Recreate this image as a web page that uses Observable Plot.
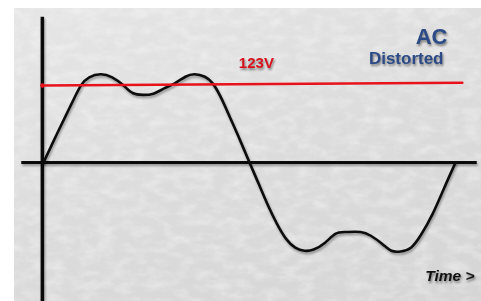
<!DOCTYPE html>
<html>
<head>
<meta charset="utf-8">
<script src="https://cdn.jsdelivr.net/npm/d3@7"></script>
<script src="https://cdn.jsdelivr.net/npm/@observablehq/plot@0.6"></script>
<style>
  html, body { margin: 0; padding: 0; background: #ffffff; }
  #wrap { position: relative; width: 481px; height: 301px; overflow: hidden; }
  #bg { position: absolute; left: 14px; top: 8px; width: 467px; height: 293px;
        background: linear-gradient(160deg, #e6e6e6 0%, #dcdcdc 50%, #d5d5d5 100%); }
  #bg svg { position: absolute; left: 0; top: 0; }
  #chart { position: absolute; left: 0; top: 0; }
  #chart svg { background: transparent; overflow: visible; }
  .shadow path, .shadow line { filter: drop-shadow(1px 2px 1.2px rgba(0,0,0,0.35)); }
  .tshadow text { filter: drop-shadow(1px 2px 1.2px rgba(0,0,0,0.45)); }
</style>
</head>
<body>
<div id="wrap">
  <div id="bg">
    <svg width="467" height="293">
      <filter id="tex"><feTurbulence type="fractalNoise" baseFrequency="0.06 0.11" numOctaves="4" seed="7"/>
        <feColorMatrix type="matrix" values="0 0 0 0 1  0 0 0 0 1  0 0 0 0 1  0 0 0 -1.8 1.1"/></filter>
      <rect width="467" height="293" filter="url(#tex)" opacity="0.4"/>
    </svg>
  </div>
  <div id="chart"></div>
</div>
<script>
// Waveform: phase (degrees) and voltage (V)
const phaseDeg = [0, 10, 20, 28, 33, 40, 50, 60, 70, 78, 87, 96, 105, 115, 124, 132, 141, 148, 155, 162, 170, 180,
                  188, 196, 204, 212, 220, 228, 236, 246, 255, 264, 277, 286, 296, 304, 312, 321, 330, 340, 350, 360];
const voltage  = [0, 39, 77, 107, 124, 136, 141, 136, 123, 111, 108, 110, 118, 127, 137, 141, 137, 126, 104, 76, 43, 0,
                  -34, -68, -98, -122, -136, -141, -139, -128, -114, -111, -111, -117, -130, -141, -142, -136, -115, -82, -41, 0];

// Reference level line
const refLabel = "123V";
const refPhase = [-1, 366];
const refVolts = [123, 127.5];

// Axis extents
const axisXExtent = [-19, 379];
const axisYExtent = [232, -222];

// Texts
const titleMain = "AC";
const titleSub = "Distorted";
const timeLabel = "Time >";

const wave = phaseDeg.map((p, i) => ({p, v: voltage[i]}));
const ref = refPhase.map((p, i) => ({p, v: refVolts[i]}));

const chart = Plot.plot({
  width: 481,
  height: 301,
  margin: 0,
  x: {domain: [-37.57, 382.7], axis: null},
  y: {domain: [-222, 258.8], axis: null},
  style: {background: "transparent", fontFamily: "'Liberation Sans', Arial, sans-serif"},
  marks: [
    Plot.ruleY([0], {x1: axisXExtent[0], x2: axisXExtent[1], stroke: "#0a0a0a", strokeWidth: 3, className: "shadow"}),
    Plot.ruleX([-1], {y1: axisYExtent[0], y2: axisYExtent[1], stroke: "#0a0a0a", strokeWidth: 3.5, className: "shadow"}),
    Plot.line(wave, {x: "p", y: "v", curve: "natural", stroke: "#0d0d0d", strokeWidth: 2.6, className: "shadow"}),
    Plot.line(ref, {x: "p", y: "v", stroke: "#e8121c", strokeWidth: 2.4}),
    Plot.dot([ref[0]], {x: "p", y: "v", r: 2.2, fill: "#e8121c"}),
    Plot.text([refLabel], {x: 186, y: refVolts[0], dy: -22, text: d => d, fill: "#d8121c", fontSize: 15, fontWeight: "bold", textAnchor: "middle", className: "tshadow"}),
    Plot.text([titleMain], {frameAnchor: "top-left", dx: 447, dy: 28, text: d => d, fill: "#2b4a86", fontSize: 22, fontWeight: "bold", textAnchor: "end", className: "tshadow"}),
    Plot.text([titleSub], {frameAnchor: "top-left", dx: 443, dy: 51.5, text: d => d, fill: "#2b4a86", fontSize: 17, fontWeight: "bold", textAnchor: "end", className: "tshadow"}),
    Plot.text([timeLabel], {frameAnchor: "top-left", dx: 474, dy: 269, text: d => d, fill: "#111", fontSize: 15.5, fontWeight: "bold", fontStyle: "italic", textAnchor: "end", className: "tshadow"})
  ]
});
document.getElementById("chart").appendChild(chart);
</script>
</body>
</html>
